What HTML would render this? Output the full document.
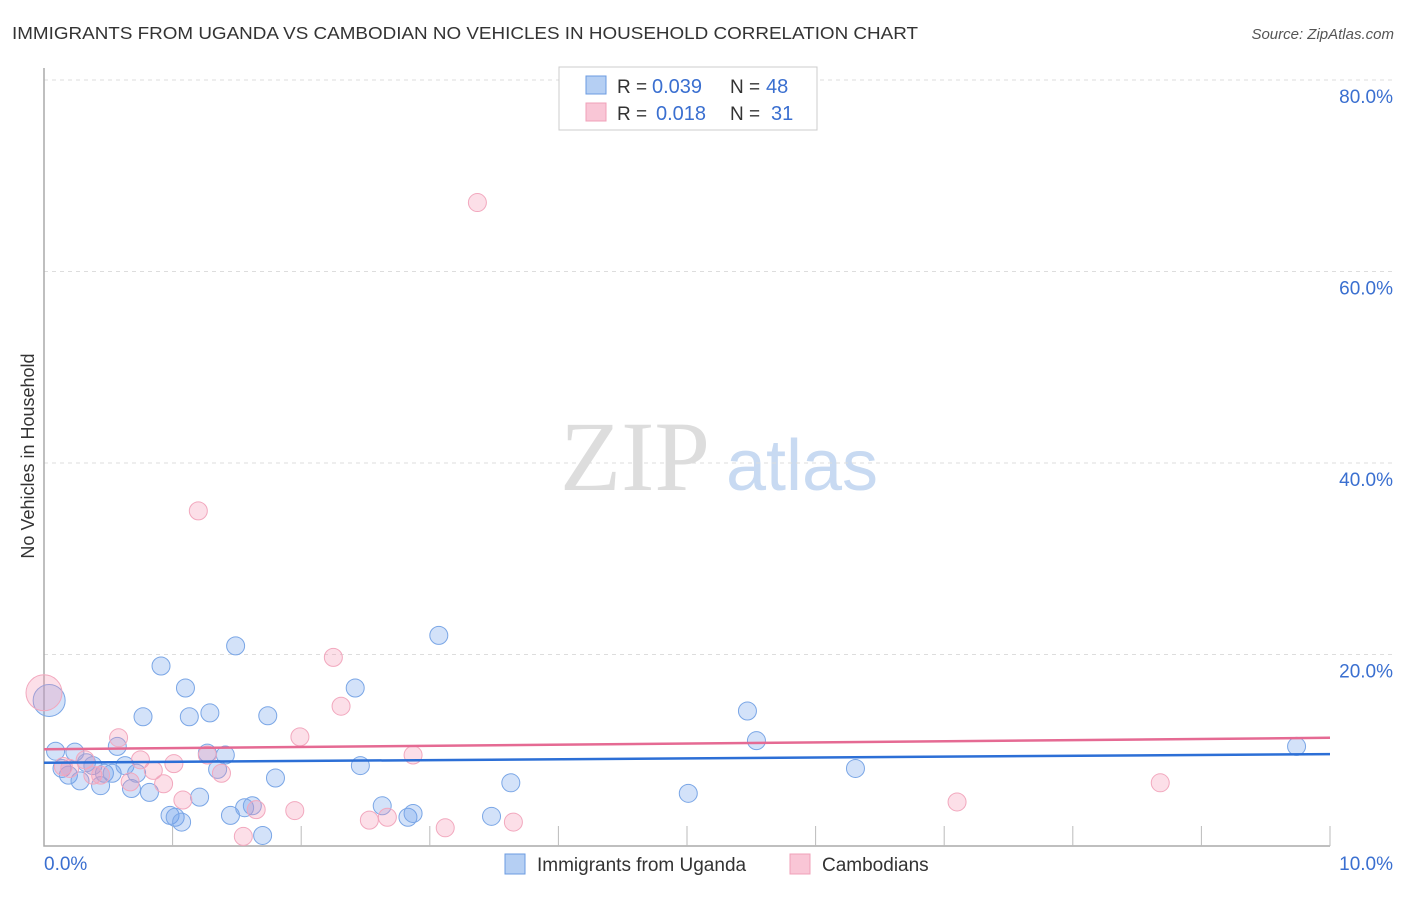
<!DOCTYPE html>
<html><head><meta charset="utf-8"><style>
body{margin:0;background:#fff;font-family:"Liberation Sans",sans-serif}
</style></head><body>
<svg id="c" width="1406" height="892" font-family="Liberation Sans, sans-serif">
<text x="12" y="39" font-size="17.5" fill="#333" textLength="906" lengthAdjust="spacingAndGlyphs">IMMIGRANTS FROM UGANDA VS CAMBODIAN NO VEHICLES IN HOUSEHOLD CORRELATION CHART</text>
<text x="1394" y="39" font-size="15" fill="#555" font-style="italic" text-anchor="end">Source: ZipAtlas.com</text>
<text x="635" y="490" font-size="100" fill="#ddd" style="font-family:'Liberation Serif',serif" text-anchor="middle">ZIP</text>
<text x="802" y="490" font-size="72" fill="#c8daf2" text-anchor="middle">atlas</text>
<text transform="translate(34,456) rotate(-90)" font-size="18" fill="#333" text-anchor="middle">No Vehicles in Household</text>
<g id="grid"></g><g id="marks"></g>
<g>
<rect x="559" y="67" width="258" height="63" fill="#fff" stroke="#ccc"/>
<rect x="586" y="76" width="20" height="18" fill="#b5cff3" stroke="#6b9be0"/>
<rect x="586" y="103" width="20" height="18" fill="#f9c6d6" stroke="#f0a0b8"/>
<text x="617" y="93" font-size="19" fill="#333">R =</text>
<text x="652" y="93" font-size="20" fill="#3a6fd0">0.039</text>
<text x="730" y="93" font-size="19" fill="#333">N =</text>
<text x="766" y="93" font-size="20" fill="#3a6fd0">48</text>
<text x="617" y="120" font-size="19" fill="#333">R =</text>
<text x="656" y="120" font-size="20" fill="#3a6fd0">0.018</text>
<text x="730" y="120" font-size="19" fill="#333">N =</text>
<text x="771" y="120" font-size="20" fill="#3a6fd0">31</text>
</g>
<g>
<rect x="505" y="854" width="20" height="20" fill="#b5cff3" stroke="#6b9be0"/>
<text x="537" y="871" font-size="19" fill="#333">Immigrants from Uganda</text>
<rect x="790" y="854" width="20" height="20" fill="#f9c6d6" stroke="#f0a0b8"/>
<text x="822" y="871" font-size="19" fill="#333">Cambodians</text>
</g>
</svg>
<script>
const yTicks=[20,40,60,80];
const yTickLabels=["20.0%","40.0%","60.0%","80.0%"];
const xTickLabels=["0.0%","10.0%"];
const ugandaX=[0.04,0.09,0.19,0.14,0.24,0.28,0.33,0.38,0.44,0.47,0.53,0.57,0.63,0.68,0.72,0.77,0.82,0.91,0.98,1.02,1.07,1.10,1.13,1.21,1.27,1.29,1.35,1.41,1.45,1.49,1.56,1.62,1.70,1.74,1.80,2.42,2.46,2.63,2.83,2.87,3.07,3.48,3.63,5.01,5.47,5.54,6.31,9.74];
const ugandaY=[15.2,9.9,7.4,8.1,9.8,6.8,8.7,8.4,6.3,7.6,7.6,10.4,8.4,6.0,7.6,13.5,5.6,18.8,3.2,3.0,2.5,16.5,13.5,5.1,9.7,13.9,8.0,9.5,3.2,20.9,4.0,4.2,1.1,13.6,7.1,16.5,8.4,4.2,3.0,3.4,22.0,3.1,6.6,5.5,14.1,11.0,8.1,10.4];
const cambX=[0.0,0.15,0.20,0.32,0.38,0.44,0.58,0.67,0.75,0.85,0.93,1.01,1.08,1.20,1.27,1.38,1.55,1.65,1.95,1.99,2.25,2.31,2.53,2.67,2.87,3.12,3.37,3.65,7.10,8.68];
const cambY=[16.0,8.3,8.1,9.0,7.4,7.4,11.3,6.7,9.0,7.9,6.5,8.6,4.8,35.0,9.5,7.6,1.0,3.8,3.7,11.4,19.7,14.6,2.7,3.0,9.5,1.9,67.2,2.5,4.6,6.6];
const ugandaTrend=[8.7,9.6];
const cambTrend=[10.1,11.3];
const NS="http://www.w3.org/2000/svg";
const X=v=>44+v/10*1286, Y=v=>846-v/20*191.5;
function mk(t,a,p){const e=document.createElementNS(NS,t);for(const k in a)e.setAttribute(k,a[k]);p.appendChild(e);return e;}
const g=document.getElementById('grid'),m=document.getElementById('marks');
yTicks.forEach((t,i)=>{
 const l=mk('line',{x1:44,x2:1394,y1:Y(t),y2:Y(t),stroke:'#ddd','stroke-dasharray':'4,4'},g);
 
 
 const tx=mk('text',{x:1393,y:Y(t)+23,'font-size':19,fill:'#3a6fd0','text-anchor':'end'},g);tx.textContent=yTickLabels[i];
 
 
});
const ax=mk('path',{d:'M44,68V846H1330',stroke:'#aaa',fill:'none','stroke-width':1.5},g);


for(let i=1;i<=10;i++){const tk=mk('line',{x1:X(i),x2:X(i),y1:826,y2:846,stroke:'#bbb'},g);
 
 }
[[0,44,'start'],[10,1393,'end']].forEach(([v,x,a],i)=>{const t=mk('text',{x:x,y:870,'font-size':19,fill:'#3a6fd0','text-anchor':a},g);t.textContent=xTickLabels[i];
 
 });
function pts(xs,ys,fill,stroke,name,big){xs.forEach((x,i)=>{const r=i===0&&x<0.05?big:9;
 const c=mk('circle',{cx:X(x),cy:Y(ys[i]),r:r,fill:fill,stroke:stroke,'stroke-width':1},m);
 
 });}
pts(ugandaX,ugandaY,'rgba(110,160,235,0.3)','#7aa6e6','uganda-point',16);
pts(cambX,cambY,'rgba(245,150,180,0.3)','#f2a8be','cambodian-point',18);
const l1=mk('line',{x1:X(0),x2:X(10),y1:Y(ugandaTrend[0]),y2:Y(ugandaTrend[1]),stroke:'#2c6fd6','stroke-width':2.5},m);


const l2=mk('line',{x1:X(0),x2:X(10),y1:Y(cambTrend[0]),y2:Y(cambTrend[1]),stroke:'#e56a93','stroke-width':2.5},m);


</script>
</body></html>
